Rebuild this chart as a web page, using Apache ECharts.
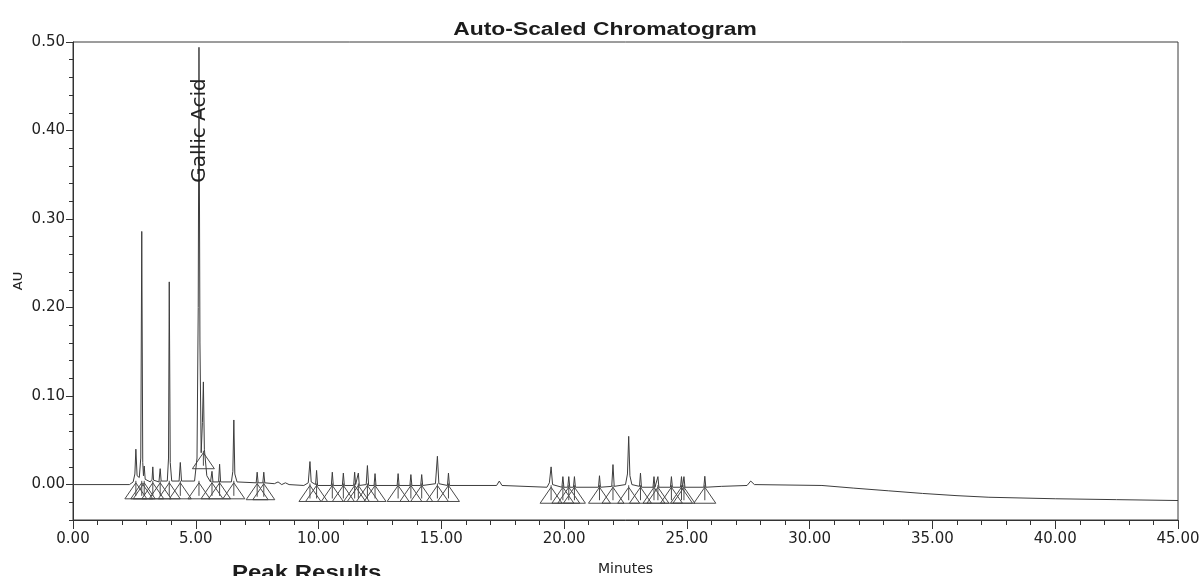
<!DOCTYPE html>
<html>
<head>
<meta charset="utf-8">
<title>Auto-Scaled Chromatogram</title>
<script src="https://cdn.jsdelivr.net/npm/echarts@6/dist/echarts.min.js"></script>
<style>
  html, body { margin: 0; padding: 0; background: #ffffff; }
  #chart { width: 1204px; height: 576px; }
</style>
</head>
<body>
<div id="chart"></div>
<script>
// Detector trace: [retention time (min), absorbance (AU)]
const trace = [
  [0.00, 0.000], [2.30, 0.000], [2.45, 0.003], [2.52, 0.012], [2.56, 0.040], [2.61, 0.010],
  [2.70, 0.008], [2.76, 0.030], [2.80, 0.286], [2.84, 0.025], [2.87, 0.010], [2.90, 0.021],
  [2.94, 0.006], [3.15, 0.003], [3.22, 0.006], [3.25, 0.020], [3.28, 0.005], [3.50, 0.003],
  [3.55, 0.018], [3.59, 0.004], [3.84, 0.004], [3.89, 0.030], [3.92, 0.229], [3.96, 0.025],
  [4.02, 0.004], [4.32, 0.004], [4.37, 0.025], [4.42, 0.004], [4.95, 0.004], [5.05, 0.030],
  [5.10, 0.200], [5.13, 0.494], [5.17, 0.160], [5.22, 0.036], [5.27, 0.070], [5.31, 0.116],
  [5.35, 0.040], [5.45, 0.010], [5.60, 0.003], [5.66, 0.015], [5.70, 0.003], [5.93, 0.003],
  [5.97, 0.023], [6.01, 0.003], [6.45, 0.003], [6.51, 0.015], [6.55, 0.073], [6.59, 0.012],
  [6.68, 0.003], [7.46, 0.002], [7.50, 0.014], [7.54, 0.002], [7.73, 0.002], [7.77, 0.014],
  [7.81, 0.002], [8.20, 0.001], [8.35, 0.003], [8.50, 0.000], [8.65, 0.002], [8.80, 0.000],
  [9.40, -0.001], [9.58, 0.002], [9.65, 0.026], [9.70, 0.003], [9.88, 0.000], [9.92, 0.016],
  [9.96, -0.001], [10.52, -0.001], [10.56, 0.014], [10.60, -0.001], [10.97, -0.001], [11.01, 0.013],
  [11.05, -0.001], [11.43, -0.001], [11.47, 0.014], [11.51, 0.000], [11.58, 0.000], [11.62, 0.013],
  [11.66, -0.001], [11.94, 0.000], [11.99, 0.0215], [12.04, -0.001], [12.26, -0.001], [12.30, 0.0124],
  [12.34, -0.001], [13.20, -0.001], [13.24, 0.0124], [13.28, -0.001], [13.72, -0.001], [13.76, 0.0113],
  [13.80, -0.001], [14.16, -0.001], [14.20, 0.0113], [14.24, -0.001], [14.76, 0.001], [14.84, 0.032],
  [14.90, 0.001], [15.25, -0.001], [15.29, 0.013], [15.33, -0.001], [17.25, -0.001], [17.36, 0.004],
  [17.47, -0.001], [19.30, -0.003], [19.40, 0.002], [19.47, 0.020], [19.53, 0.000], [19.91, -0.003],
  [19.95, 0.009], [19.99, -0.003], [20.15, -0.003], [20.19, 0.009], [20.23, -0.003], [20.38, -0.003],
  [20.42, 0.009], [20.46, -0.003], [21.40, -0.003], [21.44, 0.010], [21.48, -0.003], [21.94, -0.002],
  [21.99, 0.0226], [22.04, -0.002], [22.50, 0.000], [22.58, 0.012], [22.63, 0.0545], [22.68, 0.010],
  [22.76, 0.000], [23.07, -0.002], [23.11, 0.013], [23.15, -0.003], [23.62, -0.003], [23.66, 0.009],
  [23.70, -0.003], [23.78, -0.003], [23.82, 0.009], [23.86, -0.003], [24.33, -0.003], [24.37, 0.009],
  [24.41, -0.003], [24.74, -0.003], [24.78, 0.009], [24.82, -0.003], [24.84, -0.003], [24.88, 0.009],
  [24.92, -0.003], [25.69, -0.003], [25.73, 0.0094], [25.77, -0.003], [26.40, -0.002], [27.45, -0.001],
  [27.60, 0.004], [27.75, 0.000], [30.50, -0.001], [31.80, -0.004], [33.20, -0.007], [34.60, -0.010],
  [36.00, -0.0125], [37.30, -0.0143], [40.00, -0.016], [42.50, -0.017], [45.00, -0.018]
];

// Integrated peaks: [apex time (min), baseline level under the peak (AU)]
const integratedPeaks = [
  [2.56, 0.002], [2.80, 0.002], [2.90, 0.002], [3.25, 0.002], [3.55, 0.002], [3.92, 0.002],
  [4.37, 0.002], [5.13, 0.002], [5.31, 0.036], [5.66, 0.002], [5.97, 0.002], [6.55, 0.002],
  [7.50, 0.001], [7.77, 0.001],
  [9.65, -0.001], [9.92, -0.001], [10.56, -0.001], [11.01, -0.001], [11.47, -0.001], [11.62, -0.001],
  [11.99, -0.001], [12.30, -0.001], [13.24, -0.001], [13.76, -0.001], [14.20, -0.001], [14.84, -0.001],
  [15.29, -0.001],
  [19.47, -0.003], [19.95, -0.003], [20.19, -0.003], [20.42, -0.003], [21.44, -0.003], [21.99, -0.003],
  [22.63, -0.003], [23.11, -0.003], [23.66, -0.003], [23.82, -0.003], [24.37, -0.003], [24.78, -0.003],
  [24.88, -0.003], [25.73, -0.003]
];

// Identified compounds: [name, retention time (min)]
const namedPeaks = [['Gallic Acid', 5.13]];

// Axis ticks
const yLabelValues = [0.00, 0.10, 0.20, 0.30, 0.40, 0.50];
const xTickStep = 5;

const INK = '#222222';
const NUM_FONT = 'DejaVu Sans';

const chart = echarts.init(document.getElementById('chart'), null, { renderer: 'canvas' });

const option = {
  animation: false,
  backgroundColor: '#ffffff',
  grid: {
    left: 73, right: 26, top: 42, bottom: 56,
    outerBoundsMode: 'none', containLabel: false,
    show: true, borderColor: '#3a3a3a', borderWidth: 1, backgroundColor: 'transparent'
  },
  graphic: [
    {
      type: 'text', x: 605, y: 30, scaleX: 1.27,
      style: {
        text: 'Auto-Scaled Chromatogram', font: 'bold 18px "Liberation Sans"',
        fill: '#1c1c1c', align: 'center', verticalAlign: 'middle'
      }
    },
    {
      type: 'text', x: 232, y: 563, scaleX: 1.2,
      style: {
        text: 'Peak Results', font: 'bold 20px "Liberation Sans"',
        fill: '#1c1c1c', align: 'left', verticalAlign: 'top'
      }
    }
  ],
  xAxis: {
    type: 'value', min: 0, max: 45, interval: xTickStep,
    name: 'Minutes', nameLocation: 'middle', nameGap: 42, nameMoveOverlap: false,
    nameTextStyle: { fontFamily: NUM_FONT, fontSize: 14, color: INK },
    axisLine: { show: true, onZero: false, lineStyle: { color: '#333', width: 1 } },
    axisTick: { show: true, length: 9, lineStyle: { color: '#333' } },
    minorTick: { show: true, splitNumber: 5, length: 5, lineStyle: { color: '#333' } },
    splitLine: { show: false },
    axisLabel: {
      fontFamily: NUM_FONT, fontSize: 15, color: INK, margin: 12,
      formatter: v => v.toFixed(2)
    }
  },
  yAxis: [
    {
      type: 'value', min: -0.04, max: 0.5, position: 'left',
      name: 'AU', nameLocation: 'middle', nameGap: 48, nameMoveOverlap: false,
      nameTextStyle: { fontFamily: NUM_FONT, fontSize: 13, color: INK },
      axisLine: { show: true, onZero: false, lineStyle: { color: '#333', width: 1 } },
      axisTick: { show: true, length: 7, customValues: yLabelValues, lineStyle: { color: '#333' } },
      splitLine: { show: false },
      axisLabel: {
        customValues: yLabelValues, fontFamily: NUM_FONT, fontSize: 15, color: INK, margin: 8,
        formatter: v => v.toFixed(2)
      }
    },
    {
      type: 'value', min: -0.04, max: 0.5, interval: 0.02, position: 'left', offset: 0,
      axisLine: { show: false, onZero: false },
      axisTick: { show: true, length: 4, lineStyle: { color: '#333' } },
      axisLabel: { show: false },
      splitLine: { show: false }
    }
  ],
  series: [
    {
      name: 'Trace', type: 'line', data: trace, yAxisIndex: 0,
      showSymbol: false, symbol: 'none',
      lineStyle: { color: '#3d3d3d', width: 1 },
      z: 3
    },
    {
      // baseline markers: open triangle under each integrated peak with a drop line
      name: 'Integration', type: 'custom', data: integratedPeaks, yAxisIndex: 0,
      renderItem: (params, api) => {
        const p = api.coord([api.value(0), api.value(1)]);
        const hw = 11, h = 16;
        return {
          type: 'group',
          children: [
            {
              type: 'polygon',
              shape: { points: [[p[0] - hw, p[1] + h], [p[0], p[1]], [p[0] + hw, p[1] + h]] },
              style: { fill: 'none', stroke: '#4a4a4a', lineWidth: 1 }
            },
            {
              type: 'line',
              shape: { x1: p[0], y1: p[1] - 2, x2: p[0], y2: p[1] + h - 3 },
              style: { stroke: '#4a4a4a', lineWidth: 1 }
            }
          ]
        };
      },
      z: 2
    },
    {
      name: 'Names', type: 'custom', yAxisIndex: 0,
      data: namedPeaks.map(d => [d[1], 0]),
      renderItem: (params, api) => {
        const p = api.coord([api.value(0), 0.40]);
        return {
          type: 'text',
          x: p[0] + 1, y: p[1], rotation: Math.PI / 2,
          style: {
            text: namedPeaks[params.dataIndex][0],
            font: '20px "DejaVu Sans"', fill: '#222',
            align: 'center', verticalAlign: 'middle'
          }
        };
      },
      z: 4
    }
  ]
};

chart.setOption(option);
</script>
</body>
</html>
